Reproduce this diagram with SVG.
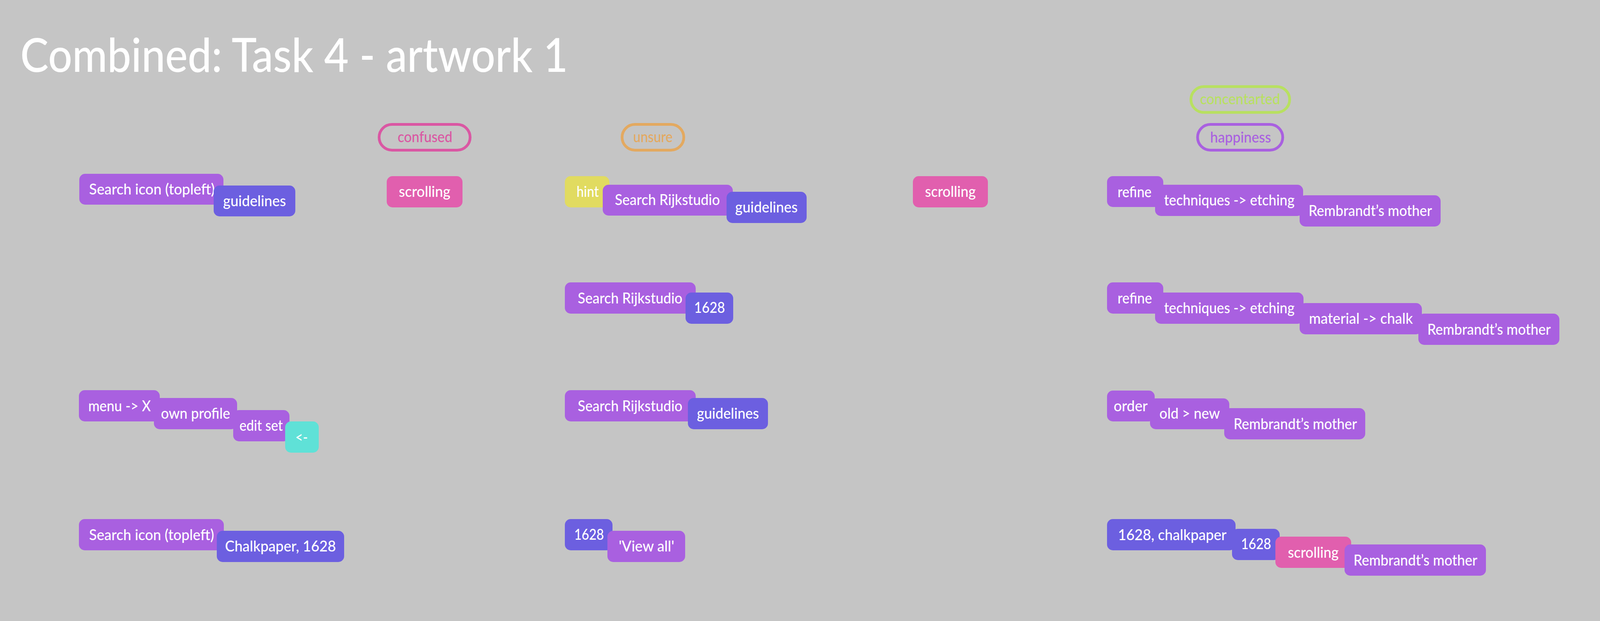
<svg xmlns="http://www.w3.org/2000/svg" width="4114" height="1590" viewBox="0 0 4114 1590">
<style>
.t{font-family:Lato,"Liberation Sans","DejaVu Sans",sans-serif;font-size:38px;font-weight:500;fill:#ffffff}
.title{font-family:Lato,"Liberation Sans","DejaVu Sans",sans-serif;font-size:120px;font-weight:500;fill:#ffffff}
.pt{font-family:Lato,"Liberation Sans","DejaVu Sans",sans-serif;font-size:38px;font-weight:500}
.pu{fill:#a960e0}
.bl{fill:#6c5fe0}
.pk{fill:#e15fae}
.ye{fill:#e1db60}
.cy{fill:#5fe1d7}
.pill{fill:none;stroke-width:7}
</style>
<rect x="0" y="0" width="4114" height="1590" fill="#c5c5c5"/>
<text class="title" x="52" y="184" textLength="1402" lengthAdjust="spacingAndGlyphs">Combined: Task 4 - artwork 1</text>

<g id="connectors"></g>

<!-- emotion pills -->
<g id="pill-confused">
<rect class="pill" x="970.5" y="318.5" width="233" height="66" rx="33" stroke="#da57a3"/>
<text class="pt" x="1018" y="364" textLength="140" lengthAdjust="spacingAndGlyphs" fill="#da57a3">confused</text>
</g>
<g id="pill-unsure">
<rect class="pill" x="1592.5" y="318.5" width="158" height="66" rx="33" stroke="#e3a960"/>
<text class="pt" x="1621" y="364" textLength="101" lengthAdjust="spacingAndGlyphs" fill="#e3a960">unsure</text>
</g>
<g id="pill-concentarted">
<rect class="pill" x="3048.8" y="221.8" width="252.7" height="66" rx="33" stroke="#b8e060"/>
<text class="pt" x="3072" y="267" textLength="205" lengthAdjust="spacingAndGlyphs" fill="#b8e060">concentarted</text>
</g>
<g id="pill-happiness">
<rect class="pill" x="3065.8" y="318.5" width="218" height="66" rx="33" stroke="#a960e0"/>
<text class="pt" x="3098" y="365" textLength="156" lengthAdjust="spacingAndGlyphs" fill="#a960e0">happiness</text>
</g>

<!-- row 1 left -->
<g id="n1a"><rect class="pu" x="203" y="445" width="369" height="79" rx="15"/><text class="t" x="228" y="498" textLength="322" lengthAdjust="spacingAndGlyphs">Search icon (topleft)</text></g>
<g id="n1b"><rect class="bl" x="547" y="475" width="209" height="79" rx="15"/><text class="t" x="571" y="528" textLength="161" lengthAdjust="spacingAndGlyphs">guidelines</text></g>
<g id="n1c"><rect class="pk" x="990" y="451" width="194" height="80" rx="15"/><text class="t" x="1021" y="504" textLength="132" lengthAdjust="spacingAndGlyphs">scrolling</text></g>

<!-- row 1 middle -->
<g id="n1d"><rect class="ye" x="1446" y="451" width="114" height="80" rx="15"/><text class="t" x="1476" y="504" textLength="57" lengthAdjust="spacingAndGlyphs">hint</text></g>
<g id="n1e"><rect class="pu" x="1543" y="473" width="333" height="79" rx="15"/><text class="t" x="1574" y="525" textLength="269" lengthAdjust="spacingAndGlyphs">Search Rijkstudio</text></g>
<g id="n1f"><rect class="bl" x="1860" y="491" width="205" height="80" rx="15"/><text class="t" x="1882" y="544" textLength="160" lengthAdjust="spacingAndGlyphs">guidelines</text></g>
<g id="n1g"><rect class="pk" x="2337" y="451" width="192" height="80" rx="15"/><text class="t" x="2368" y="504" textLength="130" lengthAdjust="spacingAndGlyphs">scrolling</text></g>

<!-- row 1 right -->
<g id="n1h"><rect class="pu" x="2834" y="451" width="144" height="79" rx="15"/><text class="t" x="2861" y="505" textLength="87" lengthAdjust="spacingAndGlyphs">refine</text></g>
<g id="n1i"><rect class="pu" x="2957" y="473" width="379" height="80" rx="15"/><text class="t" x="2980" y="526" textLength="334" lengthAdjust="spacingAndGlyphs">techniques -&gt; etching</text></g>
<g id="n1j"><rect class="pu" x="3327" y="500" width="361" height="80" rx="15"/><text class="t" x="3350" y="553" textLength="316" lengthAdjust="spacingAndGlyphs">Rembrandt’s mother</text></g>

<!-- row 2 middle -->
<g id="n2a"><rect class="pu" x="1446" y="723" width="335" height="80" rx="15"/><text class="t" x="1479" y="777" textLength="268" lengthAdjust="spacingAndGlyphs">Search Rijkstudio</text></g>
<g id="n2b"><rect class="bl" x="1755" y="749" width="122" height="80" rx="15"/><text class="t" x="1777" y="801" textLength="79" lengthAdjust="spacingAndGlyphs">1628</text></g>

<!-- row 2 right -->
<g id="n2c"><rect class="pu" x="2834" y="723" width="144" height="80" rx="15"/><text class="t" x="2861" y="777" textLength="88" lengthAdjust="spacingAndGlyphs">refine</text></g>
<g id="n2d"><rect class="pu" x="2957" y="749" width="380" height="80" rx="15"/><text class="t" x="2980" y="802" textLength="334" lengthAdjust="spacingAndGlyphs">techniques -&gt; etching</text></g>
<g id="n2e"><rect class="pu" x="3327" y="776" width="313" height="80" rx="15"/><text class="t" x="3351" y="829" textLength="266" lengthAdjust="spacingAndGlyphs">material -&gt; chalk</text></g>
<g id="n2f"><rect class="pu" x="3631" y="803" width="361" height="80" rx="15"/><text class="t" x="3654" y="857" textLength="316" lengthAdjust="spacingAndGlyphs">Rembrandt’s mother</text></g>

<!-- row 3 left -->
<g id="n3a"><rect class="pu" x="202" y="999" width="207" height="80" rx="15"/><text class="t" x="226" y="1053" textLength="160" lengthAdjust="spacingAndGlyphs">menu -&gt; X</text></g>
<g id="n3b"><rect class="pu" x="394" y="1019" width="213" height="80" rx="15"/><text class="t" x="412" y="1072" textLength="177" lengthAdjust="spacingAndGlyphs">own profile</text></g>
<g id="n3c"><rect class="pu" x="597" y="1050" width="144" height="80" rx="15"/><text class="t" x="613" y="1103" textLength="111" lengthAdjust="spacingAndGlyphs">edit set</text></g>
<g id="n3d"><rect class="cy" x="730" y="1079" width="86" height="80" rx="15"/><text class="t" x="756" y="1133" textLength="32" lengthAdjust="spacingAndGlyphs">&lt;-</text></g>

<!-- row 3 middle -->
<g id="n3e"><rect class="pu" x="1446" y="999" width="335" height="80" rx="15"/><text class="t" x="1479" y="1053" textLength="268" lengthAdjust="spacingAndGlyphs">Search Rijkstudio</text></g>
<g id="n3f"><rect class="bl" x="1761" y="1019" width="205" height="80" rx="15"/><text class="t" x="1784" y="1072" textLength="159" lengthAdjust="spacingAndGlyphs">guidelines</text></g>

<!-- row 3 right -->
<g id="n3g"><rect class="pu" x="2834" y="1000" width="122" height="79" rx="15"/><text class="t" x="2851" y="1053" textLength="87" lengthAdjust="spacingAndGlyphs">order</text></g>
<g id="n3h"><rect class="pu" x="2944" y="1020" width="203" height="79" rx="15"/><text class="t" x="2968" y="1072" textLength="155" lengthAdjust="spacingAndGlyphs">old &gt; new</text></g>
<g id="n3i"><rect class="pu" x="3134" y="1045" width="361" height="80" rx="15"/><text class="t" x="3158" y="1099" textLength="316" lengthAdjust="spacingAndGlyphs">Rembrandt’s mother</text></g>

<!-- row 4 left -->
<g id="n4a"><rect class="pu" x="202" y="1329" width="371" height="80" rx="15"/><text class="t" x="228" y="1383" textLength="320" lengthAdjust="spacingAndGlyphs">Search icon (topleft)</text></g>
<g id="n4b"><rect class="bl" x="555" y="1359" width="326" height="80" rx="15"/><text class="t" x="576" y="1412" textLength="284" lengthAdjust="spacingAndGlyphs">Chalkpaper, 1628</text></g>

<!-- row 4 middle -->
<g id="n4c"><rect class="bl" x="1446" y="1329" width="122" height="80" rx="15"/><text class="t" x="1470" y="1382" textLength="76" lengthAdjust="spacingAndGlyphs">1628</text></g>
<g id="n4d"><rect class="pu" x="1555" y="1359" width="199" height="80" rx="15"/><text class="t" x="1584" y="1412" textLength="142" lengthAdjust="spacingAndGlyphs">'View all'</text></g>

<!-- row 4 right -->
<g id="n4e"><rect class="bl" x="2834" y="1329" width="329" height="80" rx="15"/><text class="t" x="2862" y="1383" textLength="278" lengthAdjust="spacingAndGlyphs">1628, chalkpaper</text></g>
<g id="n4f"><rect class="bl" x="3154" y="1354" width="122" height="80" rx="15"/><text class="t" x="3177" y="1406" textLength="77" lengthAdjust="spacingAndGlyphs">1628</text></g>
<g id="n4g"><rect class="pk" x="3265" y="1374" width="194" height="80" rx="15"/><text class="t" x="3297" y="1428" textLength="130" lengthAdjust="spacingAndGlyphs">scrolling</text></g>
<g id="n4h"><rect class="pu" x="3442" y="1394" width="362" height="80" rx="15"/><text class="t" x="3465" y="1448" textLength="317" lengthAdjust="spacingAndGlyphs">Rembrandt’s mother</text></g>
</svg>
